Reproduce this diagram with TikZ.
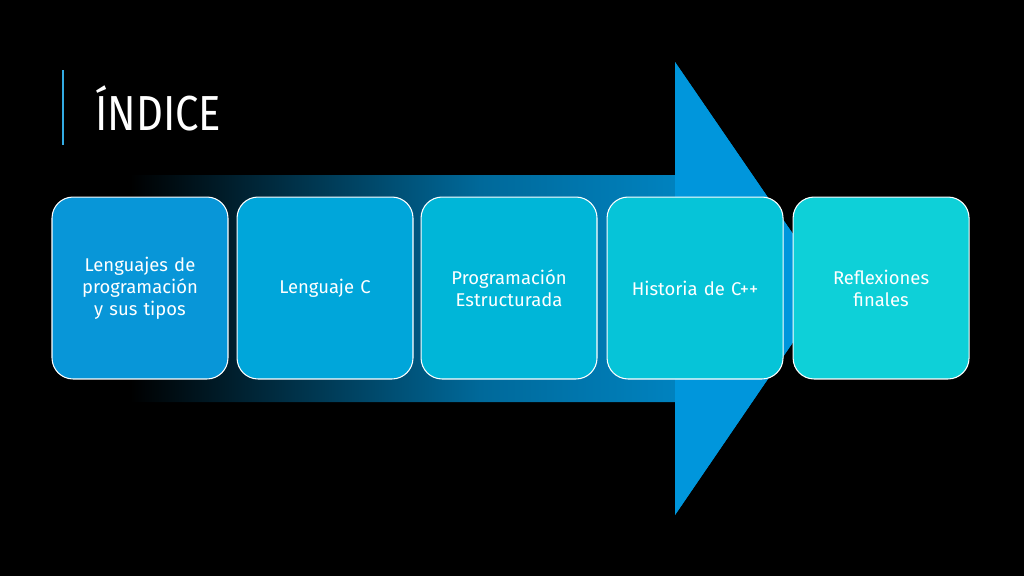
\documentclass[tikz,border=0pt]{standalone}
\usepackage{fontspec}
\setmainfont{Fira Sans}
\usetikzlibrary{positioning}
\definecolor{arrowblue}{RGB}{0,150,220}
\definecolor{boxA}{RGB}{8,150,216}
\definecolor{boxB}{RGB}{0,166,218}
\definecolor{boxC}{RGB}{0,182,216}
\definecolor{boxD}{RGB}{6,196,216}
\definecolor{boxE}{RGB}{14,208,216}
\tikzset{
  itembox/.style={draw=white, line width=0.6pt, rounded corners=12pt,
    minimum width=3.52cm, minimum height=3.64cm, text width=3.1cm,
    align=center, text=white, font=\fontsize{10.5}{12.5}\selectfont},
}
\begin{document}
\begin{tikzpicture}[x=0.02cm,y=-0.02cm]
  \useasboundingbox[fill=black] (0,0) rectangle (1024,576);
  % title
  \draw [arrowblue!80, line width=1.2pt] (63,70) -- (63,145);
  \node (title) [anchor=west, text=white, font=\fontsize{28}{30}\selectfont, xscale=0.85] at (90,108) {ÍNDICE};
  % big arrow
  \shade [left color=black, right color=arrowblue, middle color=arrowblue!70!black]
    (130,175) -- (675,175) -- (675,62) -- (830,288) -- (675,515) -- (675,402) -- (130,402) -- cycle;
  \fill [arrowblue] (675,175) -- (675,62) -- (830,288) -- (675,515) -- (675,402) -- cycle;
  % boxes
  \node (lang)   [itembox, fill=boxA] at (140,288) {Lenguajes de programación y sus tipos};
  \node (langc)  [itembox, fill=boxB, right=0.16cm of lang] {Lenguaje C\\[1.2em]};
  \node (prog)   [itembox, fill=boxC, right=0.14cm of langc] {Programación Estructurada\\[2.2em]};
  \node (hist)   [itembox, fill=boxD, right=0.18cm of prog] {Historia de C++\\[2.2em]};
  \node (reflex) [itembox, fill=boxE, right=0.18cm of hist] {Reflexiones finales\\[2.2em]};
\end{tikzpicture}
\end{document}
